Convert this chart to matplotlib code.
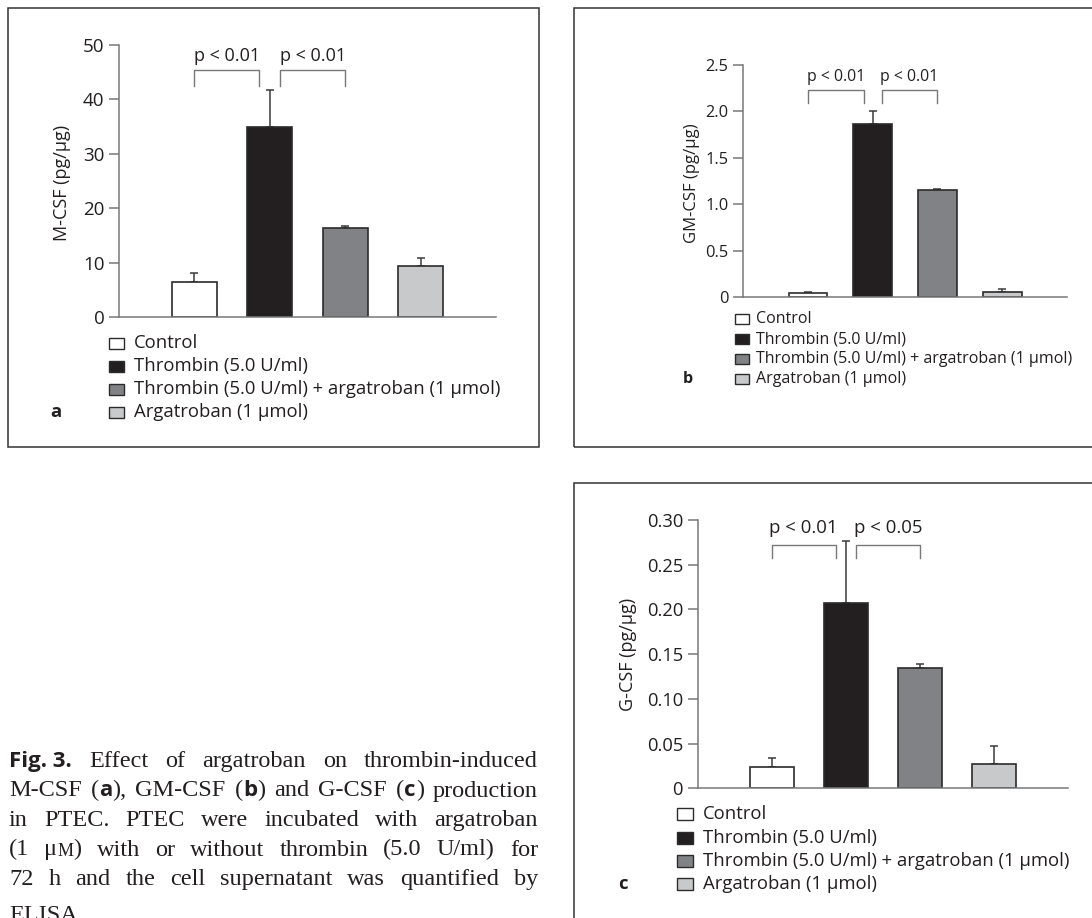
import matplotlib
matplotlib.use("Agg")
import matplotlib.pyplot as plt
from matplotlib.patches import Rectangle

plt.rcParams['font.family'] = ['Open Sans', 'DejaVu Sans']

# groups shared by all three panels
groups = ["Control", "Thrombin (5.0 U/ml)",
          "Thrombin (5.0 U/ml) + argatroban (1 µmol)", "Argatroban (1 µmol)"]
bar_colors = ["white", "#231f20", "#808285", "#c8c9cb"]

# M-CSF (pg/µg)
mcsf = [6.4, 34.9, 16.3, 9.4]
mcsf_err = [1.6, 6.8, 0.5, 1.4]
mcsf_ticks = [0, 10, 20, 30, 40, 50]
mcsf_ticklabels = ["0", "10", "20", "30", "40", "50"]
mcsf_p = ["p < 0.01", "p < 0.01"]

# GM-CSF (pg/µg)
gmcsf = [0.045, 1.87, 1.15, 0.06]
gmcsf_err = [0.01, 0.135, 0.02, 0.033]
gmcsf_ticks = [0, 0.5, 1.0, 1.5, 2.0, 2.5]
gmcsf_ticklabels = ["0", "0.5", "1.0", "1.5", "2.0", "2.5"]
gmcsf_p = ["p < 0.01", "p < 0.01"]

# G-CSF (pg/µg)
gcsf = [0.0235, 0.207, 0.134, 0.027]
gcsf_err = [0.010, 0.069, 0.005, 0.020]
gcsf_ticks = [0, 0.05, 0.10, 0.15, 0.20, 0.25, 0.30]
gcsf_ticklabels = ["0", "0.05", "0.10", "0.15", "0.20", "0.25", "0.30"]
gcsf_p = ["p < 0.01", "p < 0.05"]

W, H = 1092, 918
fig = plt.figure(figsize=(W / 100, H / 100), dpi=100)


def fx(x):
    return x / W


def fy(y):
    return 1 - y / H


AXIS_GREY = "#77787b"
EDGE = "#2b2b2b"
INK = "#231f20"


def panel(x0, x5, ytop, y0, vals, errs, ticks, ticklabels, pvals,
          bracket, ylabel, ylabel_xy, fs_tick, fs_lab, fs_p):
    ax = fig.add_axes([fx(x0), fy(y0), (x5 - x0) / W, (y0 - ytop) / H])
    ax.set_xlim(0, 5)
    ax.set_ylim(0, ticks[-1])
    xs = [1, 2, 3, 4]
    ax.bar(xs, vals, width=0.6, color=bar_colors, edgecolor=EDGE,
           linewidth=1.2, zorder=2)
    ax.errorbar(xs, vals, yerr=[[0] * 4, errs], fmt="none", ecolor="#3a3a3a",
                elinewidth=1.1, capsize=3.2, capthick=1.1, zorder=1)
    for s in ["top", "right"]:
        ax.spines[s].set_visible(False)
    for s in ["left", "bottom"]:
        ax.spines[s].set_color(AXIS_GREY)
        ax.spines[s].set_linewidth(1.1)
    ax.set_xticks([])
    ax.set_yticks(ticks)
    ax.set_yticklabels(ticklabels)
    ax.tick_params(axis="y", direction="out", length=7, width=1.1,
                   color=AXIS_GREY, pad=3.5, labelsize=fs_tick,
                   labelcolor=INK)
    # significance brackets
    lo, hi, ttext = bracket
    for (a, b), p in zip([(1.0, 1.86), (2.14, 3.0)], pvals):
        ax.plot([a, a, b, b], [lo, hi, hi, lo], color=AXIS_GREY, lw=1.0,
                clip_on=False)
        ax.text((a + b) / 2, ttext, p, ha="center", va="center",
                fontsize=fs_p, color=INK)
    fig.text(fx(ylabel_xy[0]), fy(ylabel_xy[1]), ylabel, rotation=90,
             ha="center", va="center", fontsize=fs_lab, color=INK)
    return ax


def legend(sq_x, sq_w, sq_h, text_x, rows, fs, letter, letter_x):
    for y, label, c in zip(rows, groups, bar_colors):
        fig.add_artist(Rectangle((fx(sq_x), fy(y + sq_h / 2)), sq_w / W,
                                 sq_h / H, facecolor=c, edgecolor=EDGE,
                                 linewidth=1.0, transform=fig.transFigure))
        fig.text(fx(text_x), fy(y), label, ha="left", va="center",
                 fontsize=fs, color=INK)
    fig.text(fx(letter_x), fy(rows[-1]), letter, ha="center", va="center",
             fontsize=fs, fontweight="bold", color=INK)


def frame(x0, y0, x1, y1):
    fig.add_artist(Rectangle((fx(x0), fy(y1)), (x1 - x0) / W, (y1 - y0) / H,
                             fill=False, edgecolor="#333333", linewidth=1.1,
                             transform=fig.transFigure))


# panel a
frame(8, 8, 539, 447)
panel(119, 496, 45, 317, mcsf, mcsf_err, mcsf_ticks, mcsf_ticklabels,
      mcsf_p, (42.5, 45.4, 48.0), "M-CSF (pg/µg)", (62, 183), 13.5, 13, 13)
legend(109, 15, 11, 134, [343, 366, 389, 412], 13.3, "a", 56)

# panel b
frame(574, 8, 1110, 447)
panel(743.3, 1066.8, 65, 297.3, gmcsf, gmcsf_err, gmcsf_ticks,
      gmcsf_ticklabels, gmcsf_p, (2.09, 2.23, 2.375), "GM-CSF (pg/µg)",
      (692, 183), 11.8, 12, 11.4)
legend(735, 14, 10, 755.7, [319.3, 339, 359, 379], 11.5, "b", 688)

# panel c
frame(574, 483, 1110, 940)
panel(697.7, 1068.2, 520, 788.3, gcsf, gcsf_err, gcsf_ticks,
      gcsf_ticklabels, gcsf_p, (0.258, 0.272, 0.2915), "G-CSF (pg/µg)",
      (628, 654), 13.2, 13, 13.4)
legend(677, 16, 12, 702.7, [814.3, 837.7, 861, 884.3], 13.3, "c", 623)

# figure caption, justified between x=9 and x=538
SERIF = dict(family=["Liberation Serif", "DejaVu Serif"], fontsize=17.5,
             color=INK)
SMALL = dict(family=["Liberation Serif", "DejaVu Serif"], fontsize=13,
             color=INK)
BOLD = dict(family=["Open Sans", "DejaVu Sans"], fontsize=16,
            fontweight="bold", color=INK)


def words(s):
    return [[(w, SERIF)] for w in s.split()]


caption = [
    [[("Fig. 3.", BOLD)]] + words("Effect of argatroban on thrombin-induced"),
    words("M-CSF") + [[("(", SERIF), ("a", BOLD), ("),", SERIF)]]
    + words("GM-CSF") + [[("(", SERIF), ("b", BOLD), (")", SERIF)]]
    + words("and G-CSF") + [[("(", SERIF), ("c", BOLD), (")", SERIF)]]
    + words("production"),
    words("in PTEC. PTEC were incubated with argatroban"),
    words("(1") + [[("μ", SERIF), ("M", SMALL), (")", SERIF)]]
    + words("with or without thrombin (5.0 U/ml) for"),
    words("72 h and the cell supernatant was quantified by"),
    words("ELISA"),
]
baselines = [767, 796.5, 826, 855.5, 885, 921]
left, right = 9, 538

renderer = fig.canvas.get_renderer()
for i, (line, yb) in enumerate(zip(caption, baselines)):
    placed = []
    total = 0
    for word in line:
        parts = []
        for txt, style in word:
            t = fig.text(0, fy(yb), txt, va="baseline", ha="left", **style)
            w = t.get_window_extent(renderer).width
            parts.append((t, w))
            total += w
        placed.append(parts)
    last = i == len(caption) - 1
    gap = 5 if last else (right - left - total) / (len(placed) - 1)
    x = left
    for parts in placed:
        for t, w in parts:
            t.set_x(fx(x))
            x += w
        x += gap

fig.savefig("out.png", dpi=100)
